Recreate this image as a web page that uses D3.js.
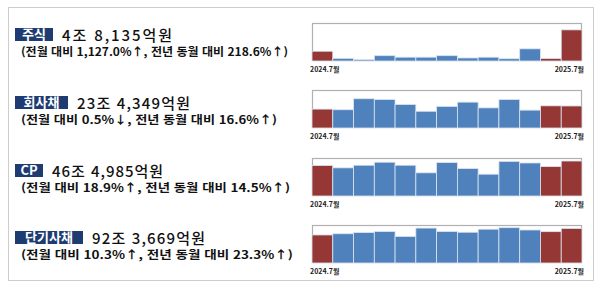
<!DOCTYPE html>
<html lang="ko">
<head>
    <meta charset="UTF-8">
    <title>발행실적</title>
    <script src="https://cdn.jsdelivr.net/npm/d3@7/dist/d3.min.js"></script>
    <style>
        body { margin: 0; background: #fff; }
        text { font-family: "Noto Sans CJK KR", "Noto Sans", sans-serif; }
    </style>
</head>
<body>
    <div class="chart"></div>
<script>
    // 조원 단위, 2024.7 ~ 2025.7
    const months = ['2024.7', '2024.8', '2024.9', '2024.10', '2024.11', '2024.12', '2025.1',
        '2025.2', '2025.3', '2025.4', '2025.5', '2025.6', '2025.7']
    const tickLabels = ['2024.7월', '2025.7월']
    const names = ['주식', '회사채', 'CP', '단기사채']
    const totals = ['4조 8,135억원', '23조 4,349억원', '46조 4,985억원', '92조 3,669억원']
    const changes = [
        '(전월 대비 1,127.0%↑, 전년 동월 대비 218.6%↑)',
        '(전월 대비 0.5%↓, 전년 동월 대비 16.6%↑)',
        '(전월 대비 18.9%↑, 전년 동월 대비 14.5%↑)',
        '(전월 대비 10.3%↑, 전년 동월 대비 23.3%↑)'
    ]
    const stock = [1.51, 0.41, 0.20, 0.82, 0.59, 0.59, 0.82, 0.47, 0.59, 0.35, 1.88, 0.39, 4.81]
    const bond = [20.1, 19.4, 31.1, 30.3, 25.0, 17.8, 23.0, 27.5, 21.4, 30.3, 19.0, 23.55, 23.43]
    const cp = [40.6, 37.4, 40.9, 44.9, 40.9, 30.8, 44.4, 36.4, 29.0, 46.0, 43.9, 39.1, 46.5]
    const esb = [74.9, 78.1, 81.2, 84.2, 71.0, 93.3, 84.2, 82.2, 90.3, 94.3, 88.2, 83.7, 92.4]
    const axisMax = [5.87, 40.4, 50.5, 101.5]
    const highlight = ['2024.7', '2025.6', '2025.7']

    const series = [stock, bond, cp, esb]

    const width = 600
    const height = 294
    // 행별 위치 (라벨 상단, 차트 상단)
    const rowTop = [28, 96, 164, 231]
    const chartTop = [23, 90, 158, 225]
    const chartH = 38
    const chartX = [312, 582]
    const boxW = [38, 53, 28, 68]
    const totalW = [110, 113, 111, 113]
    const subW = [267, 256, 269, 272]

    const svg = d3.select('.chart')
        .append('svg')
        .attr('width', width)
        .attr('height', height)

    svg.append('rect')
        .attr('x', 8.5).attr('y', 7.5)
        .attr('width', 585).attr('height', 273)
        .attr('fill', 'none')
        .attr('stroke', '#9a9a9a')
        .attr('stroke-dasharray', '1,1')

    const xScale = d3.scaleBand().domain(months).range(chartX).padding(0)

    series.forEach((values, i) => {
        const g = svg.append('g')
        const top = rowTop[i]

        // 텍스트 영역
        g.append('rect')
            .attr('x', 15).attr('y', top)
            .attr('width', boxW[i]).attr('height', 13)
            .attr('fill', '#1f3c72')
        g.append('text')
            .attr('x', 15 + boxW[i] / 2).attr('y', top + 11)
            .attr('text-anchor', 'middle')
            .attr('fill', '#fff')
            .attr('font-size', '13px')
            .attr('font-weight', 700)
            .text(names[i])
        g.append('text')
            .attr('x', 15 + boxW[i] + 9).attr('y', top + 12.5)
            .attr('fill', '#111')
            .attr('font-size', '15px')
            .attr('font-weight', 500)
            .attr('textLength', totalW[i])
            .attr('lengthAdjust', 'spacing')
            .text(totals[i])
        g.append('text')
            .attr('x', 21).attr('y', top + 28)
            .attr('fill', '#111')
            .attr('font-size', '11px')
            .attr('font-weight', 700)
            .attr('textLength', subW[i])
            .attr('lengthAdjust', 'spacingAndGlyphs')
            .text(changes[i])

        // 막대 차트
        const y0 = chartTop[i]
        const yScale = d3.scaleLinear().domain([0, axisMax[i]]).range([y0 + chartH, y0])

        g.append('rect')
            .attr('x', chartX[0] + 0.5).attr('y', y0 + 0.5)
            .attr('width', chartX[1] - chartX[0] - 1).attr('height', chartH - 1)
            .attr('fill', 'none')
            .attr('stroke', '#b0b0b0')
            .attr('stroke-width', 1.2)

        g.selectAll('.bar')
            .data(values)
            .enter()
            .append('rect')
            .attr('class', 'bar')
            .attr('x', (d, j) => xScale(months[j]))
            .attr('y', d => yScale(d))
            .attr('width', xScale.bandwidth())
            .attr('height', d => yScale(0) - yScale(d))
            .attr('fill', (d, j) => highlight.includes(months[j]) ? '#953735' : '#4f81bd')
            .attr('stroke', '#dbe5f1')
            .attr('stroke-width', 0.8)

        const xAxis = d3.axisBottom(xScale)
            .tickValues([months[0], months[months.length - 1]])
            .tickFormat((d, k) => tickLabels[k])
            .tickSize(0)
        const gx = g.append('g')
            .attr('transform', `translate(0, ${y0 + chartH})`)
            .call(xAxis)
        gx.select('.domain').remove()
        gx.selectAll('text')
            .attr('dy', 0)
            .attr('y', 11)
            .attr('font-size', '7px')
            .attr('font-weight', 700)
            .attr('fill', '#222')
            .attr('font-family', '"Noto Sans CJK KR", sans-serif')
            .attr('text-anchor', (d, k) => k === 0 ? 'start' : 'end')
            .attr('x', (d, k) => k === 0 ? -xScale.bandwidth() / 2 - 2 : xScale.bandwidth() / 2 + 2)
    })
</script>
</html>
